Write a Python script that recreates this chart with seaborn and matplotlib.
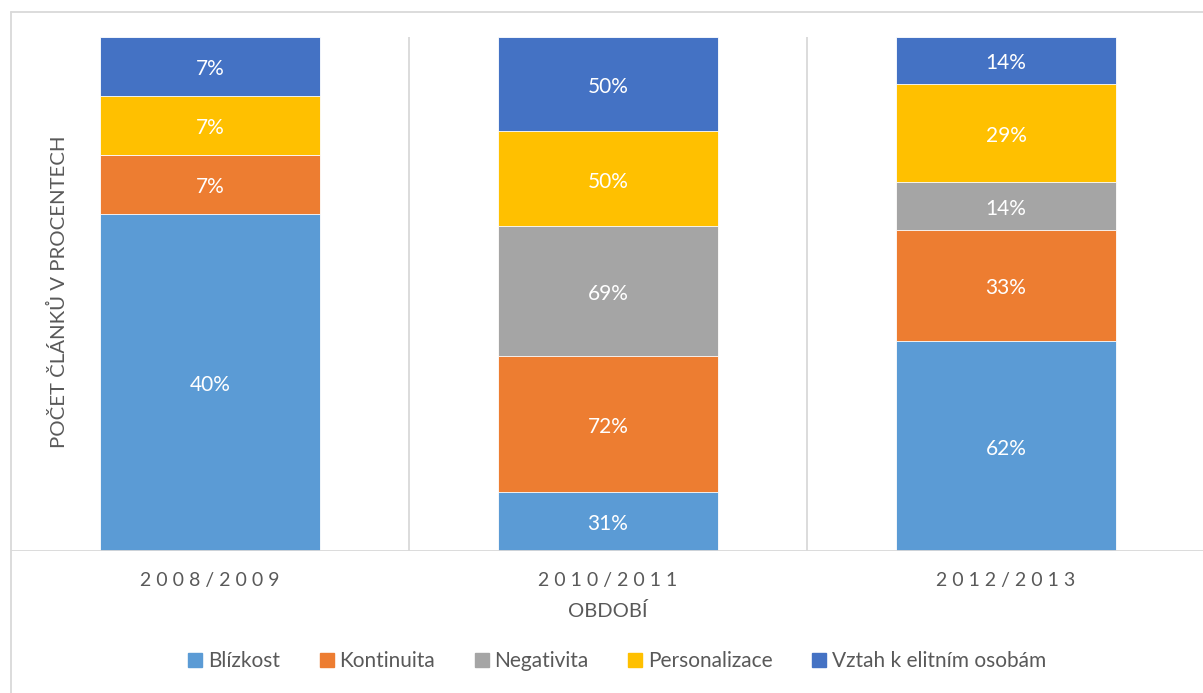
import numpy as np
import pandas as pd
import matplotlib
matplotlib.use("Agg")
import matplotlib.pyplot as plt
from matplotlib.lines import Line2D
import seaborn as sns

categories = ["2008/2009", "2010/2011", "2012/2013"]
series_names = ["Blízkost", "Kontinuita", "Negativita", "Personalizace", "Vztah k elitním osobám"]
blizkost = [40, 31, 62]
kontinuita = [7, 72, 33]
negativita = [0, 69, 14]
personalizace = [7, 50, 29]
vztah = [7, 50, 14]
colors = ["#5B9BD5", "#ED7D31", "#A5A5A5", "#FFC000", "#4472C4"]

sns.set_theme(style="white")
plt.rcParams['font.family'] = ['Lato', 'DejaVu Sans']

W, H = 1203, 693
fig = plt.figure(figsize=(W / 100, H / 100), dpi=100)
fig.patch.set_facecolor("white")

# plot area: x 11..1205, y 37..551
ax = fig.add_axes([11 / W, 1 - 551 / H, 1194 / W, 514 / H])

values = np.array([blizkost, kontinuita, negativita, personalizace, vztah], dtype=float)
totals = values.sum(axis=0)
shares = values / totals
cum = np.cumsum(shares, axis=0)

# draw from top layer (largest cumulative) down
for i in range(len(series_names) - 1, -1, -1):
    df = pd.DataFrame({"cat": categories, "v": cum[i]})
    sns.barplot(data=df, x="cat", y="v", color=colors[i], width=0.555,
                saturation=1, ax=ax, edgecolor="white", linewidth=0.6, zorder=2)

for i in range(len(series_names)):
    for j in range(len(categories)):
        if values[i, j] <= 0:
            continue
        bottom = cum[i, j] - shares[i, j]
        ax.annotate(f"{int(values[i, j])}%", (j, bottom + shares[i, j] / 2),
                    xytext=(0, -2), textcoords="offset points",
                    ha="center", va="center", color="white", fontsize=15, zorder=5)

ax.set_xlim(-0.5, 2.5)
ax.set_ylim(0, 1)
for s in ax.spines.values():
    s.set_visible(False)
ax.set_yticks([])
ax.set_xticks([])
ax.set_xlabel("")
ax.set_ylabel("")

# category separators
for xv in [0.5, 1.5]:
    ax.axvline(xv, color="#D9D9D9", lw=1.3, zorder=1)
ax.axhline(0, color="#D9D9D9", lw=1.3, zorder=3)

# tick labels with letter spacing
for j, c in enumerate(categories):
    ax.text(j, -0.058, " ".join(c), ha="center", va="center", fontsize=14, color="#595959",
            transform=ax.get_xaxis_transform())

fig.text(608 / W, 1 - 611 / H, "OBDOBÍ", ha="center", va="center", fontsize=14.5, color="#595959")
fig.text(58 / W, 1 - 292 / H, "POČET ČLÁNKŮ V PROCENTECH", ha="center", va="center",
         rotation=90, fontsize=14.7, color="#595959")

# chart frame
fig.add_artist(Line2D([11 / W, 11 / W], [1 - 12 / H, 0], color="#D9D9D9", lw=1.3))
fig.add_artist(Line2D([11 / W, 1], [1 - 12 / H, 1 - 12 / H], color="#D9D9D9", lw=1.3))

handles = [Line2D([0], [0], marker="s", linestyle="none", markersize=10.5,
                  markerfacecolor=c, markeredgecolor=c) for c in colors]
leg = fig.legend(handles, series_names, loc="center", bbox_to_anchor=(617 / W, 1 - 661 / H),
                 ncol=5, frameon=False, fontsize=15, handlelength=0.7, handletextpad=0.25,
                 columnspacing=1.9, borderaxespad=0)
for t in leg.get_texts():
    t.set_color("#595959")

fig.savefig("out.png", dpi=100, facecolor="white")
